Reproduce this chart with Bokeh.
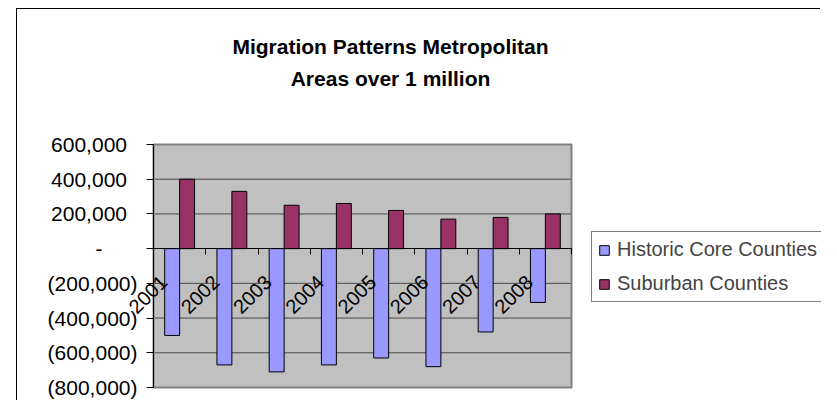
import math
from bokeh.plotting import figure
from bokeh.models import (ColumnDataSource, Range1d, FixedTicker, LinearAxis, Label,
                          Legend, LegendItem)
from bokeh.transform import dodge
from bokeh.embed import file_html
from bokeh.resources import INLINE

# ---------------- data ----------------
years = ["2001", "2002", "2003", "2004", "2005", "2006", "2007", "2008"]
historic_core = [-500000, -670000, -710000, -670000, -630000, -680000, -480000, -310000]
suburban = [400000, 330000, 250000, 260000, 220000, 170000, 180000, 200000]
series_names = ["Historic Core Counties", "Suburban Counties"]
y_ticks = [600000, 400000, 200000, 0, -200000, -400000, -600000, -800000]
y_tick_labels = ["600,000", "400,000", "200,000", "-", "(200,000)", "(400,000)",
                 "(600,000)", "(800,000)"]
title_lines = ["Migration Patterns Metropolitan", "Areas over 1 million"]

FONT = "Liberation Sans"
n = len(years)
ymin, ymax = min(y_ticks), max(y_ticks)

# ---------------- layout (pixels inside the figure) ----------------
W, H = 804, 392
PLOT_LEFT, PLOT_TOP = 136, 135  # grey area offset inside the figure
PLOT_W, PLOT_H = 418, 243       # size of the grey plotting area
x_per_px = n / PLOT_W
y_per_px = (ymax - ymin) / PLOT_H
x_start = -PLOT_LEFT * x_per_px
x_end = (W - PLOT_LEFT) * x_per_px
y_end = ymax + PLOT_TOP * y_per_px
y_start = ymin - (H - PLOT_TOP - PLOT_H) * y_per_px


def y_at(px_from_top):
    return ymax - (px_from_top - PLOT_TOP) * y_per_px


def x_at(px_from_plot_left):
    return px_from_plot_left * x_per_px


src = ColumnDataSource(dict(
    x=[i + 0.5 for i in range(n)],
    core=historic_core,
    sub=suburban,
))

p = figure(width=W, height=H, title_location=None,
           x_range=Range1d(x_start, x_end), y_range=Range1d(y_start, y_end),
           output_backend="svg", toolbar_location=None,
           min_border_left=0, min_border_right=0,
           min_border_top=0, min_border_bottom=0,
           background_fill_color="white", border_fill_color="white",
           outline_line_color=None)
p.margin = (8, 0, 0, 16)
p.styles = {"border-left": "1px solid black", "border-top": "1px solid black"}
p.xgrid.visible = False
p.ygrid.visible = False

# grey plot area
p.quad(left=[0], right=[n], bottom=[ymin], top=[ymax],
       fill_color="#C0C0C0", line_color=None)
# horizontal gridlines
grid_vals = [t for t in y_ticks if t not in (0, ymin, ymax)]
p.segment(x0=[0] * len(grid_vals), x1=[n] * len(grid_vals), y0=grid_vals, y1=grid_vals,
          line_color="#4a4a4a", line_width=1)

bw = 1.0 / 3.5
r1 = p.vbar(x=dodge("x", -bw / 2, range=p.x_range), top="core", width=bw, source=src,
            fill_color="#9999FF", line_color="black", line_width=1)
r2 = p.vbar(x=dodge("x", bw / 2, range=p.x_range), top="sub", width=bw, source=src,
            fill_color="#993366", line_color="black", line_width=1)

# plot-area border
p.quad(left=[0], right=[n], bottom=[ymin], top=[ymax],
       fill_color=None, line_color="#808080", line_width=2)

# y axis (accounting style: digits aligned, zero shown as a dash)
overrides = {}
for t, lab in zip(y_ticks, y_tick_labels):
    if lab.startswith("("):
        overrides[t] = lab
    elif lab == "-":
        overrides[t] = lab + "\u00a0" * 6
    else:
        overrides[t] = lab + "\u2002"
p.yaxis.fixed_location = 0
p.yaxis.ticker = FixedTicker(ticks=y_ticks)
p.yaxis.bounds = (ymin, ymax)
p.yaxis.major_label_overrides = overrides
p.yaxis.major_label_text_font = FONT
p.yaxis.major_label_text_font_size = "21px"
p.yaxis.major_label_text_color = "black"
p.yaxis.axis_line_color = "black"
p.yaxis.major_tick_line_color = "black"
p.yaxis.major_tick_out = 7
p.yaxis.major_tick_in = 0
p.yaxis.minor_tick_line_color = None
p.yaxis.major_label_standoff = 9

# x axis at zero with tick marks between categories
p.xaxis.fixed_location = 0
p.xaxis.bounds = (0, n)
p.xaxis.ticker = FixedTicker(ticks=list(range(n + 1)))
p.xaxis.major_label_text_font_size = "0px"
p.xaxis.major_label_overrides = {i: "" for i in range(n + 1)}
p.xaxis.axis_line_color = "black"
p.xaxis.major_tick_line_color = "black"
p.xaxis.major_tick_out = 6
p.xaxis.major_tick_in = 0
p.xaxis.minor_tick_line_color = None

# category labels: second axis at zero, rotated labels, no ticks/line
shift = 16 * x_per_px
label_pos = [i + 0.5 - shift for i in range(n)]
cat_axis = LinearAxis(ticker=FixedTicker(ticks=label_pos),
                      major_label_overrides={pos: y for pos, y in zip(label_pos, years)},
                      major_label_orientation=math.pi / 4,
                      major_label_text_font=FONT, major_label_text_font_size="20px",
                      major_label_text_color="black",
                      axis_line_color=None, major_tick_line_color=None,
                      minor_tick_line_color=None, major_tick_out=0, major_tick_in=0,
                      major_label_standoff=30)
cat_axis.fixed_location = 0
p.add_layout(cat_axis, "below")

# title (two lines)
for line, base_px in zip(title_lines, [37, 69]):
    p.add_layout(Label(x=x_at(390 - 153), y=y_at(base_px), text=line,
                       text_align="center", text_baseline="alphabetic",
                       text_font=FONT, text_font_size="21px", text_font_style="bold",
                       text_color="black"))

legend = Legend(items=[LegendItem(label=series_names[0], renderers=[r1]),
                       LegendItem(label=series_names[1], renderers=[r2])],
                location=(574, 99))
legend.label_text_font = FONT
legend.label_text_font_size = "20px"
legend.glyph_width = 12
legend.glyph_height = 12
legend.padding = 6
legend.spacing = 11
legend.label_standoff = 7
legend.border_line_color = "black"
legend.border_line_width = 1
legend.background_fill_color = "white"
legend.background_fill_alpha = 1
legend.margin = 0
p.add_layout(legend)

open("out.html", "w").write(file_html(p, INLINE))
